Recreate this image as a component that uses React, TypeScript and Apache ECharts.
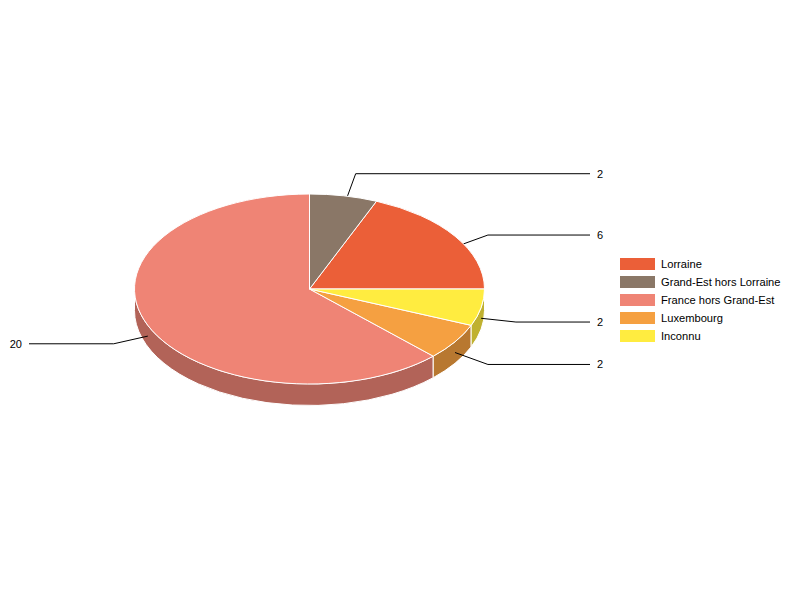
import React, { useEffect, useRef } from "react";
import * as echarts from "echarts";

const categories = ["Lorraine", "Grand-Est hors Lorraine", "France hors Grand-Est", "Luxembourg", "Inconnu"];
const seriesValues = [6, 2, 20, 2, 2];
const topColors = ["#EB5F38", "#8A7767", "#EF8475", "#F5A041", "#FFEC40"];
const wallColors = ["#B04729", "#68594D", "#B26358", "#B87830", "#C0B130"];

const FONT = '11px "Liberation Sans", Arial, sans-serif';
const CX = 309.5;
const CY = 289;
const RX = 175;
const RY = 95;
const DEPTH = 21.5;
const ELBOW = 35;
const LINE_REACH = 280.5;
const LABEL_GAP = 7;

const total = seriesValues.reduce((a, b) => a + b, 0);
const rad = (d: number) => (d * Math.PI) / 180;
const pt = (deg: number, dy = 0): [number, number] => [
  CX + RX * Math.sin(rad(deg)),
  CY - RY * Math.cos(rad(deg)) + dy,
];

function renderSlice(index: number) {
  return (_params: any, api: any) => {
    const value = api.value(0);
    const before = seriesValues.slice(0, index).reduce((a, b) => a + b, 0);
    const sweep = (value / total) * 360;
    let from = 90 - (before / total) * 360 - sweep;
    while (from < 0) from += 360;
    const to = from + sweep;
    const mid = (from + to) / 2;
    const children: any[] = [];

    // outer wall: only the front half of the disc shows one
    const lo = Math.max(from, 90);
    const hi = Math.min(to, 270);
    if (hi > lo) {
      const a = pt(lo);
      const b = pt(hi);
      const c = pt(hi, DEPTH);
      const d = pt(lo, DEPTH);
      const large = hi - lo > 180 ? 1 : 0;
      children.push({
        type: "path",
        z2: 1,
        shape: {
          pathData: `M ${a[0]} ${a[1]} A ${RX} ${RY} 0 ${large} 1 ${b[0]} ${b[1]} L ${c[0]} ${c[1]} A ${RX} ${RY} 0 ${large} 0 ${d[0]} ${d[1]} Z`,
        },
        style: { fill: wallColors[index], stroke: "#ffffff", lineWidth: 1 },
      });
    }

    // leader line, from half way down the wall, then horizontal
    const start = pt(mid, DEPTH / 2);
    const vx = RX * Math.sin(rad(mid));
    const vy = -RY * Math.cos(rad(mid));
    const len = Math.hypot(vx, vy);
    const elbow: [number, number] = [start[0] + (vx / len) * ELBOW, start[1] + (vy / len) * ELBOW];
    const side = vx >= 0 ? 1 : -1;
    const endX = CX + side * LINE_REACH;
    children.push({
      type: "polyline",
      z2: 2,
      shape: { points: [start, elbow, [endX, elbow[1]]] },
      style: { fill: "none", stroke: "#000000", lineWidth: 1 },
    });
    children.push({
      type: "text",
      z2: 4,
      style: {
        text: String(value),
        x: endX + side * LABEL_GAP,
        y: elbow[1],
        fill: "#000000",
        font: FONT,
        align: side > 0 ? "left" : "right",
        verticalAlign: "middle",
      },
    });

    // top face
    const p0 = pt(from);
    const p1 = pt(to);
    children.push({
      type: "path",
      z2: 3,
      shape: {
        pathData: `M ${CX} ${CY} L ${p0[0]} ${p0[1]} A ${RX} ${RY} 0 ${sweep > 180 ? 1 : 0} 1 ${p1[0]} ${p1[1]} Z`,
      },
      style: { fill: topColors[index], stroke: "#ffffff", lineWidth: 1 },
    });

    return { type: "group", children };
  };
}

export default function App() {
  const ref = useRef<HTMLDivElement>(null);
  useEffect(() => {
    const chart = echarts.init(ref.current!, null, { renderer: "svg" });
    chart.setOption({
      animation: false,
      backgroundColor: "#ffffff",
      legend: {
        show: true,
        data: categories,
        left: 620,
        top: 258,
        orient: "vertical",
        padding: 0,
        itemWidth: 35,
        itemHeight: 12,
        itemGap: 6,
        icon: "rect",
        selectedMode: false,
        textStyle: {
          fontFamily: '"Liberation Sans", Arial, sans-serif',
          fontSize: 11.15,
          color: "#000000",
          padding: [0, 0, 0, 1],
        },
      },
      series: categories.map((name, i) => ({
        type: "custom",
        name,
        coordinateSystem: "none",
        silent: true,
        itemStyle: { color: topColors[i] },
        data: [[seriesValues[i]]],
        renderItem: renderSlice(i),
      })),
    });
    return () => chart.dispose();
  }, []);
  return <div ref={ref} style={{ position: "fixed", left: 0, top: 0, width: 800, height: 600 }} />;
}
